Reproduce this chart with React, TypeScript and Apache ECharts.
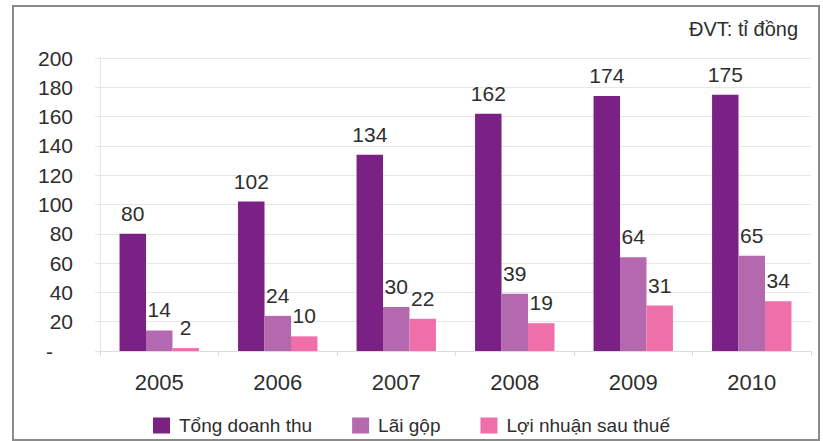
import React, { useEffect, useRef } from "react";
import * as echarts from "echarts";

const years = ["2005", "2006", "2007", "2008", "2009", "2010"];
const revenue = [80, 102, 134, 162, 174, 175];
const grossProfit = [14, 24, 30, 39, 64, 65];
const netProfit = [2, 10, 22, 19, 31, 34];
const seriesNames = ["Tổng doanh thu", "Lãi gộp", "Lợi nhuận sau thuế"];
const colors = ["#7B2085", "#B469AE", "#EF6FAA"];
const unitNote = "ĐVT: tỉ đồng";

const FONT = "'Liberation Sans', Arial, sans-serif";
const TEXT = "#2e2e2e";

export default function App() {
  const ref = useRef<HTMLDivElement>(null);

  useEffect(() => {
    if (!ref.current) return;
    const chart = echarts.init(ref.current, undefined, { renderer: "svg" });
    const label = {
      show: true,
      position: "top",
      distance: 10,
      fontSize: 21,
      color: TEXT,
      fontFamily: FONT,
    };
    const data = [revenue, grossProfit, netProfit];
    chart.setOption({
      animation: false,
      backgroundColor: "#fff",
      textStyle: { fontFamily: FONT },
      grid: { left: 100, right: 12, top: 58, bottom: 90, containLabel: false },
      legend: {
        bottom: 1,
        left: "center",
        itemWidth: 17,
        itemHeight: 16,
        itemGap: 40,
        icon: "rect",
        textStyle: { fontSize: 19, color: TEXT, fontFamily: FONT, padding: [0, 0, 0, 4] },
        data: seriesNames,
      },
      xAxis: {
        type: "category",
        data: years,
        axisLine: { show: true, lineStyle: { color: "#dcdcdc" } },
        axisTick: { show: true, length: 5, lineStyle: { color: "#dcdcdc" } },
        axisLabel: { fontSize: 22, color: TEXT, margin: 20, fontFamily: FONT },
      },
      yAxis: {
        type: "value",
        min: 0,
        max: 200,
        interval: 20,
        axisLine: { show: true, lineStyle: { color: "#e6e6e6" } },
        axisTick: { show: true, length: 5, lineStyle: { color: "#e6e6e6" } },
        splitLine: { show: true, lineStyle: { color: "#e6e6e6" } },
        axisLabel: {
          fontSize: 21,
          color: TEXT,
          margin: 27,
          fontFamily: FONT,
          formatter: (v: number) => (v === 0 ? "{d|-}" : String(v)),
          rich: { d: { fontSize: 21, color: TEXT, padding: [0, 20, 0, 0], fontFamily: FONT } },
        },
      },
      graphic: [
        {
          type: "rect",
          shape: { x: 13, y: 6, width: 806, height: 434 },
          style: { fill: "none", stroke: "#8a8a8a", lineWidth: 2 },
          z: 100,
        },
        {
          type: "text",
          right: 25,
          top: 19,
          style: { text: unitNote, fontSize: 20, fill: TEXT, fontFamily: FONT },
        },
      ],
      series: seriesNames.map((name, i) => ({
        name,
        type: "bar",
        data: data[i],
        barGap: "0%",
        barCategoryGap: "33%",
        itemStyle: { color: colors[i] },
        label,
      })),
    });
    return () => chart.dispose();
  }, []);

  return (
    <div
      ref={ref}
      style={{ position: "fixed", left: 0, top: 0, width: 823, height: 441 }}
    />
  );
}
